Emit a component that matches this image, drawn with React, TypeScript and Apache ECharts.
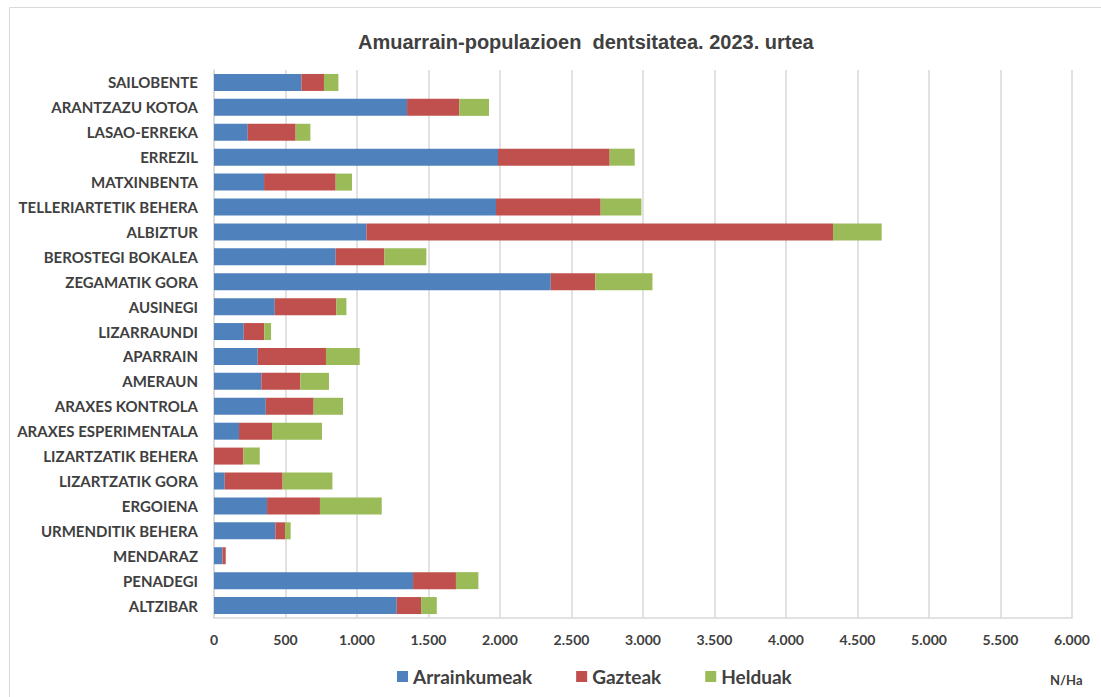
import React, { useEffect, useRef } from "react";
import * as echarts from "echarts";

const categories = [
  "SAILOBENTE",
  "ARANTZAZU KOTOA",
  "LASAO-ERREKA",
  "ERREZIL",
  "MATXINBENTA",
  "TELLERIARTETIK BEHERA",
  "ALBIZTUR",
  "BEROSTEGI BOKALEA",
  "ZEGAMATIK GORA",
  "AUSINEGI",
  "LIZARRAUNDI",
  "APARRAIN",
  "AMERAUN",
  "ARAXES KONTROLA",
  "ARAXES ESPERIMENTALA",
  "LIZARTZATIK BEHERA",
  "LIZARTZATIK GORA",
  "ERGOIENA",
  "URMENDITIK BEHERA",
  "MENDARAZ",
  "PENADEGI",
  "ALTZIBAR",
];

const arrainkumeak = [611, 1350, 236, 1986, 350, 1972, 1066, 851, 2355, 425, 208, 306, 331, 362, 175, 0, 75, 371, 429, 59, 1392, 1278];
const gazteak = [158, 366, 335, 781, 501, 732, 3263, 341, 312, 431, 144, 477, 273, 335, 231, 206, 405, 370, 68, 23, 300, 170];
const helduak = [101, 207, 103, 175, 114, 285, 340, 293, 399, 70, 47, 236, 200, 205, 349, 114, 348, 432, 39, 0, 157, 110];

const seriesNames = ["Arrainkumeak", "Gazteak", "Helduak"];
const colors = ["#4f81bd", "#c0504d", "#9bbb59"];
const titleText = "Amuarrain-populazioen  dentsitatea. 2023. urtea";
const unitText = "N/Ha";

const fmt = (v: number) => {
  const s = String(Math.round(v));
  return s.replace(/\B(?=(\d{3})+(?!\d))/g, ".");
};

export default function App() {
  const ref = useRef<HTMLDivElement>(null);
  useEffect(() => {
    document.body.style.margin = "0";
    const chart = echarts.init(ref.current!, null, { renderer: "svg" });
    const font = "Lato";
    const dataSets = [arrainkumeak, gazteak, helduak];
    chart.setOption({
      animation: false,
      backgroundColor: "#ffffff",
      title: {
        text: titleText,
        left: 353,
        top: 27,
        textStyle: {
          fontFamily: "Liberation Sans",
          fontWeight: "bold",
          fontSize: 20,
          color: "#404040",
        },
      },
      graphic: [
        {
          type: "rect",
          shape: { x: 9.5, y: 7.5, width: 1100, height: 700 },
          style: { fill: "none", stroke: "#d9d9d9", lineWidth: 1 },
          silent: true,
        },
        {
          type: "text",
          x: 1050,
          y: 673,
          style: {
            text: unitText,
            fontFamily: font,
            fontWeight: "bold",
            fontSize: 13,
            fill: "#404040",
          },
        },
      ],
      legend: {
        data: seriesNames,
        bottom: 6,
        left: 392,
        itemWidth: 11,
        itemHeight: 11,
        itemGap: 44,
        icon: "rect",
        textStyle: {
          fontFamily: font,
          fontWeight: "bold",
          fontSize: 19,
          color: "#404040",
        },
      },
      grid: {
        left: 214,
        right: 29,
        top: 70,
        bottom: 79,
        containLabel: false,
      },
      xAxis: {
        type: "value",
        min: 0,
        max: 6000,
        interval: 500,
        axisLine: { show: true, lineStyle: { color: "#d9d9d9", width: 1.5 } },
        axisTick: { show: false },
        splitLine: { show: true, lineStyle: { color: "#d9d9d9", width: 1.5 } },
        axisLabel: {
          formatter: (v: number) => fmt(v),
          fontFamily: font,
          fontWeight: "bold",
          fontSize: 14,
          color: "#404040",
          margin: 14,
        },
      },
      yAxis: {
        type: "category",
        data: categories,
        inverse: true,
        axisLine: { show: true, lineStyle: { color: "#d9d9d9", width: 1.5 } },
        axisTick: { show: false },
        axisLabel: {
          fontFamily: font,
          fontWeight: "bold",
          fontSize: 15,
          color: "#404040",
          margin: 16,
        },
      },
      series: seriesNames.map((name, i) => ({
        name,
        type: "bar",
        stack: "total",
        data: dataSets[i],
        barWidth: 17,
        itemStyle: { color: colors[i] },
      })),
    });
    return () => chart.dispose();
  }, []);
  return <div ref={ref} style={{ width: 1101, height: 697 }} />;
}
